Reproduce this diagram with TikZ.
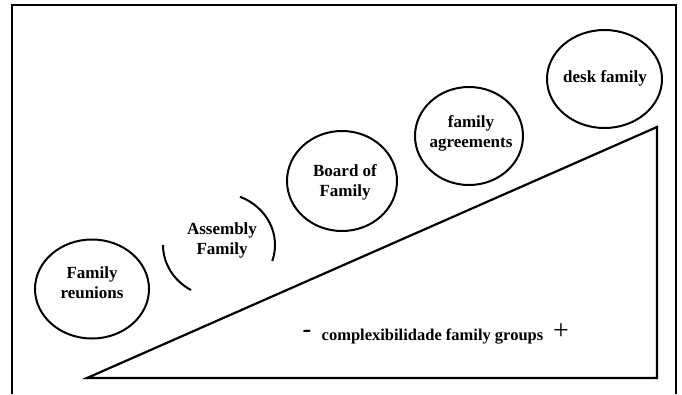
\documentclass[tikz,border=0pt]{standalone}
\usepackage{fontspec}
\setmainfont{Liberation Serif}
\usetikzlibrary{shapes.geometric}
\begin{document}
\begin{tikzpicture}[x=1pt,y=-1pt,
  bubble/.style={draw, ellipse, line width=2pt, inner sep=0pt},
  lbl/.style={align=center, inner sep=0pt, font=\fontsize{17}{20}\selectfont\bfseries},
  frame/.style={line width=2.2pt},
  arcline/.style={line width=2pt}]
\useasboundingbox (0,0) rectangle (682,394);
\fill[white] (0,0) rectangle (682,394);
% outer frame (open at the bottom)
\coordinate (f1) at (12,394);
\coordinate (f2) at (12,5);
\coordinate (f3) at (676,5);
\coordinate (f4) at (676,394);
\draw[frame, line join=miter] (f1) -- (f2) -- (f3) -- (f4);
% ramp triangle
\coordinate (tl) at (87,378);
\coordinate (tr) at (657,127);
\coordinate (br) at (657,378);
\draw[frame, line join=miter] (tr) -- (tl) -- (br) -- cycle;
% bubbles
\node[bubble, minimum width=114pt, minimum height=99pt] (reunions) at (92,289) {};
\node[lbl] (reunions-t) at (92,283) {Family\\reunions};
\node[bubble, minimum width=110pt, minimum height=100pt] (board) at (342,181) {};
\node[lbl] (board-t) at (345,182) {Board of\\Family};
\node[bubble, minimum width=108pt, minimum height=98pt] (agree) at (469,136) {};
\node[lbl] (agree-t) at (471,133) {family\\agreements};
\node[bubble, minimum width=115pt, minimum height=98pt] (desk) at (604.5,79) {};
\node[lbl] (desk-t) at (605,78) {desk family};
% assembly (partial circle)
\coordinate (asm) at (219,245);
\node[lbl] (assembly) at (222,240) {Assembly\\Family};
\draw[arcline] (asm) ++(68:56pt and 52pt) arc[start angle=68, end angle=-18, x radius=56pt, y radius=52pt];
\draw[arcline] (asm) ++(180:56pt and 52pt) arc[start angle=180, end angle=240, x radius=56pt, y radius=52pt];
% bottom caption
\node[inner sep=0pt, font=\fontsize{16.5}{20}\selectfont\bfseries] (caption) at (432.5,337) {complexibilidade family groups};
\node[inner sep=0pt, font=\fontsize{26}{26}\selectfont\bfseries] (minus) at (307,334) {-};
\node[inner sep=0pt, font=\fontsize{28}{28}\selectfont] (plus) at (561,332) {+};
\end{tikzpicture}
\end{document}
